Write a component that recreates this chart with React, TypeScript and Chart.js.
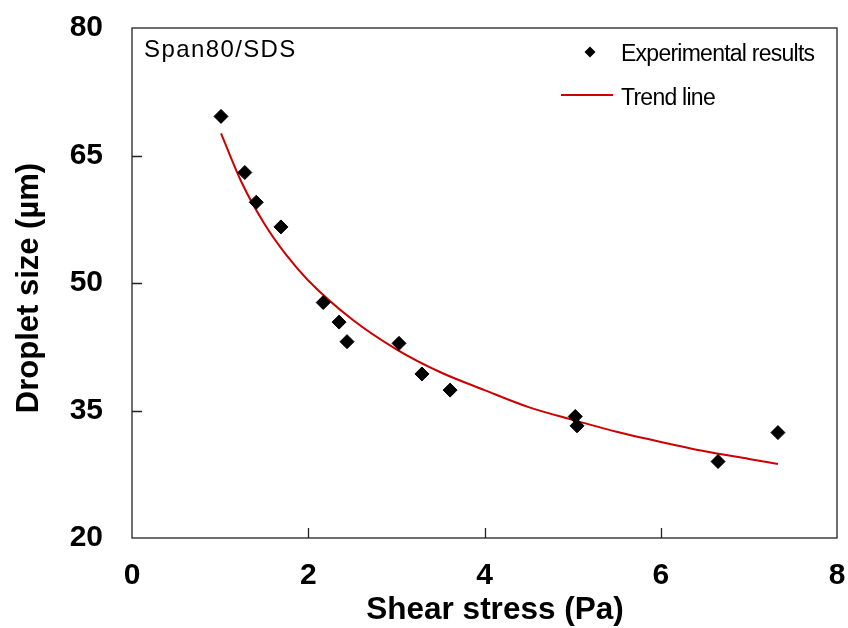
import React, { useEffect, useRef } from "react";
import { Chart, registerables } from "chart.js";
Chart.register(...registerables);

const shearStress = [1.01, 1.28, 1.41, 1.69, 2.17, 2.35, 2.44, 3.03, 3.29, 3.61, 5.03, 5.05, 6.65, 7.33];
const dropletSize = [69.6, 63.0, 59.5, 56.6, 47.7, 45.4, 43.1, 42.9, 39.3, 37.4, 34.3, 33.2, 29.0, 32.4];

const trendX = [1.01, 1.25, 1.5, 1.75, 2.0, 2.5, 3.0, 3.5, 4.0, 4.5, 5.0, 5.5, 6.0, 6.5, 7.0, 7.33];
const trendY = [67.6, 61.7, 57.0, 53.3, 50.3, 45.7, 42.2, 39.5, 37.4, 35.4, 33.9, 32.5, 31.3, 30.2, 29.3, 28.7];

const xTicks = [0, 2, 4, 6, 8];
const yTicks = [20, 35, 50, 65, 80];

const seriesLabels = ["Experimental results", "Trend line"];
const annotationText = "Span80/SDS";
const xTitle = "Shear stress (Pa)";
const yTitle = "Droplet size (\u00B5m)";

const FONT = "'Liberation Sans', Arial, Helvetica, sans-serif";

export default function App() {
  const ref = useRef<HTMLCanvasElement | null>(null);

  useEffect(() => {
    const canvas = ref.current;
    if (!canvas) return;

    const overlay = {
      id: "overlay",
      afterDraw(chart: any) {
        const { ctx, chartArea: a, scales } = chart;
        const xs = scales.x;
        const ys = scales.y;
        ctx.save();
        // frame
        ctx.strokeStyle = "#222";
        ctx.lineWidth = 1.3;
        ctx.strokeRect(a.left, a.top, a.right - a.left, a.bottom - a.top);
        // inward ticks
        ctx.beginPath();
        yTicks.slice(1, -1).forEach((v) => {
          const py = Math.round(ys.getPixelForValue(v)) + 0.5;
          ctx.moveTo(a.left, py);
          ctx.lineTo(a.left + 10, py);
        });
        xTicks.slice(1, -1).forEach((v) => {
          const px = Math.round(xs.getPixelForValue(v)) + 0.5;
          ctx.moveTo(px, a.bottom);
          ctx.lineTo(px, a.bottom - 10);
        });
        ctx.stroke();

        // axis titles
        ctx.fillStyle = "#000";
        ctx.textBaseline = "alphabetic";
        ctx.textAlign = "center";
        ctx.font = `bold 31.5px ${FONT}`;
        ctx.fillText(xTitle, a.left + 363, a.bottom + 81);
        ctx.save();
        ctx.font = `bold 31px ${FONT}`;
        ctx.translate(a.left - 94, a.top + 260);
        ctx.rotate(-Math.PI / 2);
        ctx.fillText(yTitle, 0, 0);
        ctx.restore();

        // annotation
        ctx.textAlign = "left";
        ctx.font = `24px ${FONT}`;
        (ctx as any).letterSpacing = "1.4px";
        ctx.fillText(annotationText, a.left + 12, a.top + 29);

        // legend
        const ds = chart.data.datasets;
        (ctx as any).letterSpacing = "-0.75px";
        ctx.font = `23px ${FONT}`;
        const dx = a.right - 247;
        const dy = a.top + 24;
        const r = 5.5;
        ctx.beginPath();
        ctx.moveTo(dx - r, dy);
        ctx.lineTo(dx, dy - r);
        ctx.lineTo(dx + r, dy);
        ctx.lineTo(dx, dy + r);
        ctx.closePath();
        ctx.fill();
        ctx.fillText(ds[0].label, a.right - 216, a.top + 33);
        ctx.strokeStyle = ds[1].borderColor;
        ctx.lineWidth = 2;
        ctx.beginPath();
        ctx.moveTo(a.right - 276, a.top + 67);
        ctx.lineTo(a.right - 224, a.top + 67);
        ctx.stroke();
        ctx.fillText(ds[1].label, a.right - 216, a.top + 77);
        ctx.restore();
      },
    };

    const tickFont = { family: FONT, size: 30, weight: "bold" as const };

    const chart = new Chart(canvas, {
      type: "scatter",
      data: {
        datasets: [
          {
            label: seriesLabels[0],
            data: shearStress.map((x, i) => ({ x, y: dropletSize[i] })),
            pointStyle: "rectRot",
            pointRadius: 7,
            backgroundColor: "#000",
            borderColor: "#000",
            borderWidth: 1,
            showLine: false,
            order: 1,
          },
          {
            label: seriesLabels[1],
            data: trendX.map((x, i) => ({ x, y: trendY[i] })),
            showLine: true,
            borderColor: "#CC0000",
            backgroundColor: "#CC0000",
            borderWidth: 2,
            pointRadius: 0,
            cubicInterpolationMode: "monotone",
            fill: false,
            order: 2,
          } as any,
        ],
      },
      options: {
        animation: false,
        responsive: false,
        events: [],
        layout: { padding: { top: 28, right: 11, left: 0, bottom: 0 } },
        plugins: {
          legend: { display: false },
          tooltip: { enabled: false },
        },
        scales: {
          x: {
            type: "linear",
            min: 0,
            max: 8,
            afterBuildTicks: (s: any) => {
              s.ticks = xTicks.map((v) => ({ value: v }));
            },
            afterFit: (s: any) => {
              s.height = 90;
              s.paddingLeft = 0;
              s.paddingRight = 0;
              s.paddingTop = 0;
              s.paddingBottom = 0;
            },
            ticks: { font: tickFont, color: "#000", padding: 20, maxRotation: 0, autoSkip: false },
            grid: { display: false, drawTicks: false },
            border: { display: false },
            title: { display: false, text: xTitle },
          },
          y: {
            type: "linear",
            min: 20,
            max: 80,
            afterBuildTicks: (s: any) => {
              s.ticks = yTicks.map((v) => ({ value: v }));
            },
            afterFit: (s: any) => {
              s.width = 132;
              s.paddingLeft = 0;
              s.paddingRight = 0;
              s.paddingTop = 0;
              s.paddingBottom = 0;
            },
            ticks: { font: tickFont, color: "#000", padding: 29, autoSkip: false },
            grid: { display: false, drawTicks: false },
            border: { display: false },
            title: { display: false, text: yTitle },
          },
        },
      },
      plugins: [overlay],
    });

    return () => chart.destroy();
  }, []);

  return (
    <div style={{ position: "absolute", left: 0, top: 0, width: 848, height: 628, background: "#fff" }}>
      <canvas ref={ref} width={848} height={628} style={{ display: "block", width: 848, height: 628 }} />
    </div>
  );
}
